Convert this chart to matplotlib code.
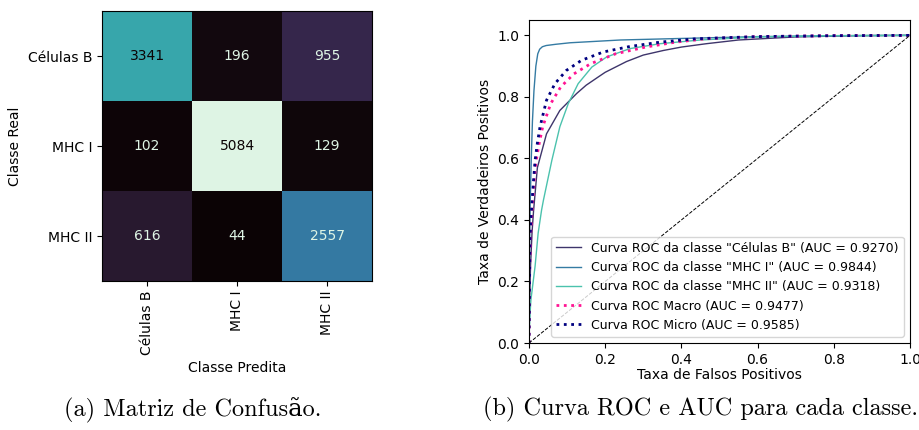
import matplotlib
matplotlib.use("Agg")
import matplotlib.pyplot as plt
import numpy as np
import seaborn as sns

# Matriz de confusão
classes = ["Células B", "MHC I", "MHC II"]
matriz = [[3341, 196, 955],
          [102, 5084, 129],
          [616, 44, 2557]]

# Curvas ROC
celulas_b_fpr = [0, 0.002, 0.004, 0.008, 0.012, 0.022, 0.046, 0.081, 0.125,
                 0.15, 0.182, 0.2, 0.256, 0.3, 0.353, 0.4, 0.466, 0.55, 0.7,
                 0.85, 1.0]
celulas_b_tpr = [0, 0.15, 0.25, 0.36, 0.43, 0.57, 0.68, 0.756, 0.811,
                 0.838, 0.865, 0.88, 0.915, 0.936, 0.951, 0.962, 0.973, 0.985,
                 0.995, 0.999, 1.0]

mhc1_fpr = [0, 0.001, 0.003, 0.006, 0.009, 0.013, 0.018, 0.023, 0.028,
            0.035, 0.045, 0.07, 0.108, 0.24, 0.4, 0.6, 0.8, 1.0]
mhc1_tpr = [0, 0.25, 0.45, 0.6, 0.72, 0.82, 0.9, 0.94, 0.955,
            0.963, 0.967, 0.971, 0.976, 0.985, 0.99, 0.996, 0.999, 1.0]

mhc2_fpr = [0, 0.001, 0.003, 0.005, 0.016, 0.024, 0.033, 0.038, 0.06, 0.081,
            0.103, 0.129, 0.165, 0.204, 0.265, 0.344, 0.45, 0.6, 0.8, 1.0]
mhc2_tpr = [0, 0.05, 0.1, 0.14, 0.25, 0.357, 0.432, 0.465, 0.594, 0.703,
            0.778, 0.843, 0.897, 0.93, 0.957, 0.973, 0.985, 0.995, 0.999, 1.0]

macro_fpr = [0, 0.002, 0.005, 0.009, 0.015, 0.019, 0.027, 0.036, 0.057, 0.083,
             0.118, 0.162, 0.227, 0.306, 0.385, 0.464, 0.6, 0.8, 1.0]
macro_tpr = [0, 0.25, 0.37, 0.45, 0.55, 0.594, 0.65, 0.703, 0.778, 0.832,
             0.875, 0.908, 0.94, 0.962, 0.978, 0.989, 0.996, 0.999, 1.0]

micro_fpr = [0, 0.002, 0.004, 0.008, 0.012, 0.016, 0.022, 0.029, 0.046, 0.068,
             0.098, 0.138, 0.195, 0.265, 0.344, 0.438, 0.6, 0.8, 1.0]
micro_tpr = [0, 0.28, 0.38, 0.46, 0.53, 0.594, 0.65, 0.703, 0.789, 0.843,
             0.886, 0.919, 0.946, 0.964, 0.978, 0.989, 0.996, 0.999, 1.0]

auc_classes = [0.9270, 0.9844, 0.9318]
auc_macro = 0.9477
auc_micro = 0.9585

cmap = sns.color_palette("mako", as_cmap=True)
cores = sns.color_palette("mako", 3)

fig = plt.figure(figsize=(9.2, 4.3), dpi=100)
fig.patch.set_facecolor("white")

# --- (a) matriz de confusão ---
ax1 = fig.add_axes([0.1109, 0.3465, 0.2935, 0.6279])
cm = np.array(matriz)
ax1.imshow(cm, cmap=cmap, interpolation="nearest")
limiar = (cm.max() + cm.min()) / 2
for i in range(cm.shape[0]):
    for j in range(cm.shape[1]):
        cor = cmap(0.0) if cm[i, j] > limiar else cmap(1.0)
        ax1.text(j, i, f"{cm[i, j]}", ha="center", va="center",
                 color=cor, fontsize=10)
ax1.set_xticks(range(len(classes)))
ax1.set_yticks(range(len(classes)))
ax1.set_xticklabels(classes, rotation=90)
ax1.set_yticklabels(classes)
ax1.set_xlabel("Classe Predita")
ax1.set_ylabel("Classe Real")

# --- (b) curvas ROC ---
ax2 = fig.add_axes([0.575, 0.2023, 0.4141, 0.7512])
curvas = [(celulas_b_fpr, celulas_b_tpr), (mhc1_fpr, mhc1_tpr),
          (mhc2_fpr, mhc2_tpr)]
for (fpr, tpr), nome, auc, cor in zip(curvas, classes, auc_classes, cores):
    ax2.plot(fpr, tpr, color=cor, lw=1,
             label=f'Curva ROC da classe "{nome}" (AUC = {auc:.4f})')
ax2.plot(macro_fpr, macro_tpr, color="deeppink", ls=":", lw=2,
         label=f"Curva ROC Macro (AUC = {auc_macro:.4f})")
ax2.plot(micro_fpr, micro_tpr, color="navy", ls=":", lw=2,
         label=f"Curva ROC Micro (AUC = {auc_micro:.4f})")
ax2.plot([0, 1], [0, 1], "k--", lw=0.7)
ax2.set_xlim(0, 1)
ax2.set_ylim(0, 1.05)
ax2.set_xlabel("Taxa de Falsos Positivos", labelpad=1)
ax2.set_ylabel("Taxa de Verdadeiros Positivos")
ax2.legend(loc="lower right", fontsize=9)

# legendas das subfiguras
fonte_cap = dict(family=["cmr10", "DejaVu Serif"], fontsize=17.5)
fig.text(0.209, 0.047, "(a) Matriz de Confusão.", ha="center", va="center",
         **fonte_cap)
fig.text(0.761, 0.047, "(b) Curva ROC e AUC para cada classe.", ha="center",
         va="center", **fonte_cap)

plt.savefig("out.png", dpi=100, facecolor="white")
plt.close()
